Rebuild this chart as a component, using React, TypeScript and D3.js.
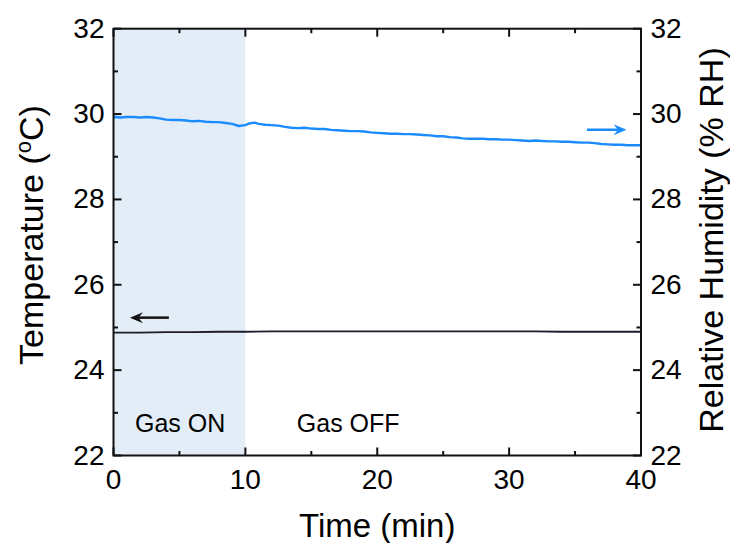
import React from "react";
import * as d3 from "d3";

// Relative humidity (% RH) readings, time in minutes
const rhTime = [
  0, 0.5, 1, 1.5, 2, 2.5, 3, 3.5, 4, 4.5, 5, 5.5, 6, 6.5, 7, 7.5, 8, 8.5, 9, 9.5,
  10, 10.3, 10.7, 11, 11.5, 12, 12.5, 13, 13.5, 14, 14.5, 15, 15.5, 16, 16.5, 17,
  17.5, 18, 18.5, 19, 19.5, 20, 20.5, 21, 21.5, 22, 22.5, 23, 23.5, 24, 24.5, 25,
  25.5, 26, 26.5, 27, 27.5, 28, 28.5, 29, 29.5, 30, 30.5, 31, 31.5, 32, 32.5, 33,
  33.5, 34, 34.5, 35, 35.5, 36, 36.5, 37, 37.5, 38, 38.5, 39, 39.5, 40,
];
const rhValues = [
  29.93, 29.92, 29.93, 29.93, 29.92, 29.93, 29.92, 29.9, 29.87, 29.86, 29.86, 29.85,
  29.83, 29.84, 29.82, 29.81, 29.81, 29.79, 29.77, 29.72, 29.74, 29.78, 29.8, 29.77,
  29.75, 29.74, 29.73, 29.7, 29.68, 29.67, 29.68, 29.66, 29.65, 29.65, 29.63, 29.62,
  29.61, 29.6, 29.6, 29.59, 29.57, 29.56, 29.55, 29.54, 29.54, 29.53, 29.53, 29.52,
  29.51, 29.5, 29.48, 29.48, 29.46, 29.45, 29.43, 29.42, 29.42, 29.42, 29.41, 29.41,
  29.4, 29.4, 29.39, 29.38, 29.37, 29.38, 29.37, 29.36, 29.36, 29.35, 29.35, 29.34,
  29.33, 29.33, 29.32, 29.3, 29.29, 29.28, 29.28, 29.27, 29.27, 29.27,
];

// Temperature (°C) readings
const tempTime = [0, 2, 4, 6, 8, 10, 12, 14, 16, 18, 20, 22, 24, 26, 28, 30, 32, 34, 36, 38, 40];
const tempValues = [
  24.88, 24.88, 24.89, 24.89, 24.9, 24.9, 24.91, 24.91, 24.91, 24.91, 24.91, 24.91,
  24.91, 24.91, 24.91, 24.91, 24.91, 24.9, 24.9, 24.9, 24.9,
];

const xTicks = [0, 10, 20, 30, 40];
const xMinorTicks = [5, 15, 25, 35];
const yTicks = [22, 24, 26, 28, 30, 32];
const yMinorTicks = [23, 25, 27, 29, 31];
const gasOnWindow = [0, 10];

const W = 730;
const H = 543;
const margin = { left: 113.5, right: 89, top: 28.7, bottom: 87.5 };
const FONT = "Liberation Sans, Arial, sans-serif";

export default function App() {
  const x = d3.scaleLinear().domain([0, 40]).range([margin.left, W - margin.right]);
  const y = d3.scaleLinear().domain([22, 32]).range([H - margin.bottom, margin.top]);
  const x0 = x(0), x1 = x(40), y0 = y(22), y1 = y(32);

  const line = d3
    .line<[number, number]>()
    .x((d) => x(d[0]))
    .y((d) => y(d[1]));

  const rhData = rhTime.map((t, i) => [t, rhValues[i]] as [number, number]);
  const tempData = tempTime.map((t, i) => [t, tempValues[i]] as [number, number]);

  const major = 8;
  const minor = 4.5;
  const tickFont = 28;
  const axisColor = "#111";

  // arrow: tail -> head
  const arrow = (tx: number, hx: number, vy: number, color: string) => {
    const xt = x(tx), xh = x(hx), yy = y(vy);
    const dir = Math.sign(xh - xt);
    const headLen = 13;
    const headHalf = 5.5;
    return (
      <g>
        <line x1={xt} y1={yy} x2={xh - dir * headLen * 0.6} y2={yy} stroke={color} strokeWidth={2.5} />
        <path
          d={`M${xh},${yy} L${xh - dir * headLen},${yy - headHalf} L${xh - dir * headLen * 0.65},${yy} L${xh - dir * headLen},${yy + headHalf} Z`}
          fill={color}
        />
      </g>
    );
  };

  return (
    <svg
      width={W}
      height={H}
      style={{ position: "absolute", left: 0, top: 0, background: "#fff" }}
      fontFamily={FONT}
    >
      {/* Gas ON shaded interval */}
      <rect
        x={x(gasOnWindow[0])}
        y={y1}
        width={x(gasOnWindow[1]) - x(gasOnWindow[0])}
        height={y0 - y1}
        fill="#e3edf7"
      />

      {/* series */}
      <path d={line(rhData) || ""} fill="none" stroke="#1a8cff" strokeWidth={2.4} strokeLinejoin="round" />
      <path d={line(tempData) || ""} fill="none" stroke="#1c1c28" strokeWidth={1.8} />

      {/* frame */}
      <rect x={x0} y={y1} width={x1 - x0} height={y0 - y1} fill="none" stroke={axisColor} strokeWidth={2} />

      {/* x ticks bottom and top */}
      {xTicks.map((t) => (
        <g key={"xt" + t}>
          <line x1={x(t)} x2={x(t)} y1={y0} y2={y0 - major} stroke={axisColor} strokeWidth={2} />
          <line x1={x(t)} x2={x(t)} y1={y1} y2={y1 + major} stroke={axisColor} strokeWidth={2} />
          <text x={x(t)} y={y0 + 33.5} textAnchor="middle" fontSize={tickFont} fill="#000">
            {t}
          </text>
        </g>
      ))}
      {xMinorTicks.map((t) => (
        <g key={"xm" + t}>
          <line x1={x(t)} x2={x(t)} y1={y0} y2={y0 - minor} stroke={axisColor} strokeWidth={2} />
          <line x1={x(t)} x2={x(t)} y1={y1} y2={y1 + minor} stroke={axisColor} strokeWidth={2} />
        </g>
      ))}

      {/* y ticks left and right */}
      {yTicks.map((v) => (
        <g key={"yt" + v}>
          <line x1={x0} x2={x0 + major} y1={y(v)} y2={y(v)} stroke={axisColor} strokeWidth={2} />
          <line x1={x1} x2={x1 - major} y1={y(v)} y2={y(v)} stroke={axisColor} strokeWidth={2} />
          <text x={x0 - 9} y={y(v) + 9} textAnchor="end" fontSize={tickFont} fill="#000">
            {v}
          </text>
          <text x={x1 + 9.5} y={y(v) + 9} textAnchor="start" fontSize={tickFont} fill="#000">
            {v}
          </text>
        </g>
      ))}
      {yMinorTicks.map((v) => (
        <g key={"ym" + v}>
          <line x1={x0} x2={x0 + minor} y1={y(v)} y2={y(v)} stroke={axisColor} strokeWidth={2} />
          <line x1={x1} x2={x1 - minor} y1={y(v)} y2={y(v)} stroke={axisColor} strokeWidth={2} />
        </g>
      ))}

      {/* axis titles */}
      <text x={(x0 + x1) / 2} y={537} textAnchor="middle" fontSize={33} fill="#000">
        Time (min)
      </text>
      <text
        transform={`translate(43, 235) rotate(-90)`}
        textAnchor="middle"
        fontSize={34}
        fill="#000"
      >
        Temperature (
        <tspan fontSize={22} dy={-12}>o</tspan>
        <tspan dy={12}>C)</tspan>
      </text>
      <text
        transform={`translate(723, 240) rotate(-90)`}
        textAnchor="middle"
        fontSize={34}
        fill="#000"
      >
        Relative Humidity (% RH)
      </text>

      {/* annotations */}
      <text x={x(1.63)} y={y(22.55)} fontSize={25} fill="#000">
        Gas ON
      </text>
      <text x={x(13.9)} y={y(22.55)} fontSize={25} fill="#000">
        Gas OFF
      </text>
      {arrow(4.2, 1.25, 25.23, "#111")}
      {arrow(35.9, 38.9, 29.63, "#1a8cff")}
    </svg>
  );
}
